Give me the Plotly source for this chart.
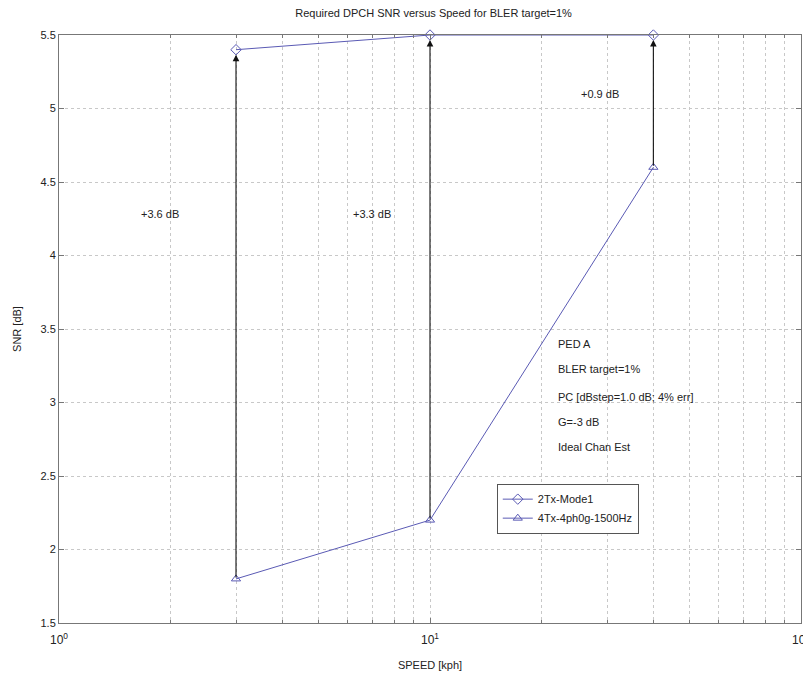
import math
import plotly.graph_objects as go

speed = [3, 10, 40]
snr_2tx = [5.4, 5.5, 5.5]
snr_4tx = [1.8, 2.2, 4.6]
gain_labels = ["+3.6 dB", "+3.3 dB", "+0.9 dB"]
gain_label_x = [1.87, 6.98, 28.7]
gain_label_y = [4.28, 4.28, 5.1]
info_lines = ["PED A", "BLER target=1%", "PC [dBstep=1.0 dB; 4% err]", "G=-3 dB", "Ideal Chan Est"]
info_x = 21.8
info_y = [3.4, 3.23, 3.04, 2.87, 2.7]

x_major = [1, 10, 100]
x_major_text = ["10<sup>0</sup>", "10<sup>1</sup>", "10<sup>2</sup>"]
x_minor = [2, 3, 4, 5, 6, 7, 8, 9, 20, 30, 40, 50, 60, 70, 80, 90]
y_tickvals = [1.5, 2, 2.5, 3, 3.5, 4, 4.5, 5, 5.5]

FONT = "Liberation Sans, Arial, sans-serif"
LINE = "#5a5ab4"
GRID = "#c8c8c8"

fig = go.Figure()
fig.add_trace(go.Scatter(x=speed, y=snr_2tx, mode="lines+markers", name="2Tx-Mode1", cliponaxis=False,
                         line=dict(color=LINE, width=1),
                         marker=dict(symbol="diamond-open", size=8, color=LINE, line=dict(width=1))))
fig.add_trace(go.Scatter(x=speed, y=snr_4tx, mode="lines+markers", name="4Tx-4ph0g-1500Hz", cliponaxis=False,
                         line=dict(color=LINE, width=1),
                         marker=dict(symbol="triangle-up-open", size=8, color=LINE, line=dict(width=1))))

annotations = []
for xs, lo, hi in zip(speed, snr_4tx, snr_2tx):
    annotations.append(dict(x=math.log10(xs), y=hi, ax=math.log10(xs), ay=lo,
                            xref="x", yref="y", axref="x", ayref="y",
                            text="", showarrow=True, arrowhead=2, arrowsize=1.2,
                            arrowwidth=1.1, arrowcolor="#111111", standoff=5))
for t, gx, gy in zip(gain_labels, gain_label_x, gain_label_y):
    annotations.append(dict(x=math.log10(gx), y=gy, xref="x", yref="y", text=t,
                            showarrow=False, font=dict(size=11, color="#222222", family=FONT)))
for t, iy in zip(info_lines, info_y):
    annotations.append(dict(x=math.log10(info_x), y=iy, xref="x", yref="y", text=t,
                            showarrow=False, xanchor="left",
                            font=dict(size=11, color="#222222", family=FONT)))

fig.update_layout(
    width=803, height=667,
    margin=dict(l=51, r=10, t=27, b=52, autoexpand=False),
    paper_bgcolor="white", plot_bgcolor="white",
    font=dict(family=FONT, size=11, color="#222222"),
    title=dict(text="Required DPCH SNR versus Speed for BLER target=1%", x=0.53, xanchor="center",
               y=1, yanchor="top", pad=dict(t=1), font=dict(size=11, color="#222222")),
    showlegend=True,
    legend=dict(x=0.59, y=0.237, xanchor="left", yanchor="top", bgcolor="white",
                bordercolor="#555555", borderwidth=1, font=dict(size=11, color="#222222"),
                tracegroupgap=0, itemwidth=30),
    annotations=annotations,
)
fig.update_xaxes(type="log", range=[0, 2], tickvals=x_major, ticktext=x_major_text, automargin=False,
                 showgrid=True, gridcolor=GRID, griddash="dot", gridwidth=1,
                 minor=dict(tickvals=x_minor, showgrid=True, gridcolor=GRID, griddash="dot",
                            ticks="inside", ticklen=3, tickcolor="#777777"),
                 showline=True, linecolor="#777777", linewidth=1, mirror="ticks",
                 ticks="inside", ticklen=5, tickcolor="#777777", ticklabelstandoff=6,
                 zeroline=False, tickfont=dict(size=12),
                 title=dict(text="SPEED [kph]", font=dict(size=11), standoff=14))
fig.update_yaxes(range=[1.5, 5.5], tickvals=y_tickvals, automargin=False,
                 showgrid=True, gridcolor=GRID, griddash="dot", gridwidth=1,
                 showline=True, linecolor="#777777", linewidth=1, mirror="ticks",
                 ticks="inside", ticklen=5, tickcolor="#777777",
                 zeroline=False, tickfont=dict(size=11),
                 title=dict(text="SNR [dB]", font=dict(size=11), standoff=16))

fig.write_html("out.html")
